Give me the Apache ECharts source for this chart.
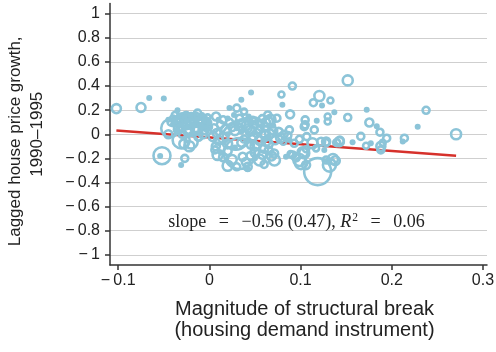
<!DOCTYPE html>
<html>
<head>
<meta charset="utf-8">
<script src="https://cdn.jsdelivr.net/npm/echarts@6/dist/echarts.min.js"></script>
<style>
  html, body { margin: 0; padding: 0; background: #ffffff; }
  #chart { width: 496px; height: 352px; }
</style>
</head>
<body>
<div id="chart"></div>
<script>
// Tick positions
const xTicks = [-0.1, 0, 0.1, 0.2, 0.3];
const yTicks = [-1, -0.8, -0.6, -0.4, -0.2, 0, 0.2, 0.4, 0.6, 0.8, 1];

// Regions with larger weight: [structural break, lagged price growth, marker diameter]
const ringPoints = [
  [-0.102, 0.213, 9], [-0.075, 0.222, 9], [-0.043, 0.05, 18], [-0.052, -0.178, 17], [-0.027, -0.20, 7],
  [-0.031, -0.047, 17], [-0.020, -0.065, 13], [-0.022, -0.1, 10], [-0.028, -0.08, 9], [-0.045, 0.0, 8],
  [-0.035, 0.1, 8], [-0.028, 0.13, 7], [-0.015, 0.15, 7], [-0.01, 0.09, 8], [-0.022, 0.04, 9],
  [-0.005, 0.03, 7], [-0.03, 0.0, 7], [-0.012, -0.02, 8], [-0.001, 0.06, 7], [-0.013, 0.175, 7],
  [-0.025, 0.08, 9], [-0.018, 0.11, 8], [-0.008, 0.12, 9], [-0.003, 0.1, 7], [-0.032, 0.06, 7],
  [-0.04, 0.13, 6], [-0.02, 0.15, 6], [-0.006, 0.07, 8], [-0.015, 0.06, 10], [-0.038, 0.16, 6],
  [-0.036, 0.11, 7], [-0.026, 0.15, 8], [-0.019, 0.125, 7], [-0.011, 0.105, 8], [-0.004, 0.085, 7],
  [-0.028, 0.1, 7], [-0.033, 0.125, 6], [-0.009, 0.145, 6], [-0.021, 0.09, 8], [-0.014, 0.03, 8],
  [-0.034, 0.04, 9], [-0.002, 0.14, 6], [-0.042, 0.1, 7], [-0.024, 0.02, 8], [-0.007, 0.0, 8],
  [0.0073, 0.147, 8], [0.033, 0.133, 7], [0.038, 0.188, 6], [0.030, 0.217, 7], [0.064, 0.16, 7],
  [0.067, 0.12, 10], [0.061, 0.06, 8], [0.055, 0.092, 7], [0.0475, 0.12, 6],
  [0.005, 0.05, 8], [0.012, 0.08, 7], [0.018, 0.04, 9], [0.008, 0.01, 8], [0.015, -0.03, 10],
  [0.022, 0.1, 7], [0.025, 0.06, 8], [0.04, 0.07, 9], [0.045, 0.03, 10], [0.05, 0.08, 7],
  [0.055, 0.04, 8], [0.06, 0.0, 9], [0.048, -0.02, 8], [0.038, -0.04, 7], [0.055, -0.05, 9],
  [0.065, -0.08, 8], [0.045, -0.09, 7], [0.02, -0.08, 9], [0.007, -0.1, 8], [0.004, -0.02, 9],
  [0.006, -0.13, 7], [0.06, -0.12, 8], [0.05, -0.15, 9], [0.068, -0.18, 9], [0.015, -0.19, 8],
  [0.025, -0.21, 9], [0.04, -0.23, 8], [0.06, -0.25, 7], [0.03, -0.27, 7],
  [0.015, 0.12, 7], [0.035, 0.09, 8], [0.05, 0.11, 7], [0.058, 0.13, 7], [0.062, 0.1, 8],
  [0.042, 0.05, 8], [0.028, 0.03, 9], [0.052, 0.01, 8], [0.01, -0.05, 9], [0.035, -0.07, 8],
  [0.05, -0.1, 9], [0.045, -0.18, 8], [0.065, -0.135, 8], [0.02, -0.14, 8],
  [0.033, -0.16, 31], [0.029, -0.02, 26], [0.009, -0.172, 10], [0.020, -0.262, 10], [0.0365, -0.187, 8],
  [0.042, -0.27, 8], [0.055, -0.214, 11], [0.071, -0.16, 8], [0.0713, -0.214, 11], [0.062, -0.06, 9],
  [0.058, -0.17, 8],
  [0.076, 0.02, 8], [0.082, 0.0, 7], [0.07, 0.03, 8], [0.078, -0.03, 9], [0.086, -0.01, 7],
  [0.066, 0.005, 9], [0.072, -0.05, 8],
  [0.081, -0.062, 6], [0.093, -0.075, 7], [0.0987, -0.042, 7], [0.1067, -0.02, 7], [0.1225, -0.062, 8],
  [0.128, -0.07, 7], [0.1396, -0.07, 7], [0.143, -0.053, 8], [0.106, -0.125, 6], [0.117, -0.117, 6],
  [0.106, -0.256, 8], [0.128, -0.214, 7],
  [0.0877, 0.036, 7], [0.104, 0.063, 7], [0.115, 0.036, 7], [0.113, -0.075, 10], [0.128, -0.06, 8],
  [0.0913, -0.172, 7], [0.0987, -0.214, 12], [0.1023, -0.15, 10], [0.1005, -0.24, 12], [0.104, -0.158, 10],
  [0.095, -0.19, 8], [0.089, -0.165, 6], [0.138, -0.22, 9], [0.1355, -0.205, 10],
  [0.1187, -0.31, 27], [0.1316, -0.256, 13],
  [0.091, 0.40, 7], [0.079, 0.33, 6], [0.0885, 0.165, 8], [0.1206, 0.318, 10], [0.114, 0.262, 7],
  [0.1327, 0.28, 6], [0.105, 0.119, 7], [0.105, 0.078, 7], [0.1297, 0.147, 6], [0.1297, 0.106, 6],
  [0.074, 0.133, 7], [0.064, 0.105, 10],
  [0.1517, 0.447, 10], [0.2376, 0.199, 7], [0.1517, 0.139, 7], [0.1754, 0.097, 8], [0.2705, 0.0, 10],
  [0.2138, -0.033, 7], [0.188, -0.10, 9], [0.19, -0.07, 6], [0.188, -0.13, 7], [0.1944, -0.033, 7],
  [0.1718, -0.095, 6], [0.166, -0.018, 7], [0.1425, -0.062, 9], [0.187, 0.017, 7]
];

// Regions with small weight: [structural break, lagged price growth]
const dotPoints = [
  [-0.066, 0.30], [-0.050, 0.297], [-0.035, 0.20], [-0.054, -0.18], [-0.031, -0.256],
  [-0.035, 0.14], [-0.03, 0.16], [-0.025, 0.17], [-0.018, 0.14], [-0.012, 0.13],
  [-0.005, 0.14], [-0.038, 0.12], [-0.03, 0.09], [-0.022, 0.12], [-0.015, 0.09],
  [-0.008, 0.16], [-0.002, 0.12], [-0.04, 0.08], [-0.028, 0.05], [-0.01, 0.04],
  [-0.036, 0.03], [-0.02, 0.0], [-0.045, 0.12], [0.0, 0.1], [-0.016, 0.165],
  [-0.033, 0.155], [-0.027, 0.14], [-0.021, 0.16], [-0.014, 0.12], [-0.006, 0.11],
  [-0.039, 0.1], [-0.025, 0.11], [-0.017, 0.075], [-0.031, 0.075], [-0.009, 0.07],
  [0.022, 0.217], [0.035, 0.286], [0.0457, 0.347], [0.043, 0.147], [0.027, 0.16],
  [0.01, 0.12], [0.03, 0.1], [0.02, 0.0], [0.035, 0.02], [0.042, -0.29],
  [0.05, -0.2], [0.012, -0.15], [0.065, -0.02], [0.07, 0.07], [0.028, -0.11], [0.04, 0.12],
  [0.02, 0.13], [0.045, 0.1], [0.058, 0.07], [0.03, 0.05], [0.06, -0.04],
  [0.080, 0.244], [0.1235, 0.238], [0.1177, 0.113], [0.137, 0.183], [0.1725, 0.203],
  [0.1835, 0.066], [0.2284, 0.063], [0.212, -0.06], [0.177, -0.075], [0.157, -0.067],
  [0.0877, -0.047], [0.126, -0.13], [0.084, -0.187]
];

// Weighted regression fit
const fitIntercept = -0.026;
const fitSlope = -0.56;
const fitSE = 0.47;
const fitR2 = 0.06;

const allX = ringPoints.map(p => p[0]).concat(dotPoints.map(p => p[0]));
const xLo = Math.min.apply(null, allX);
const xHi = Math.max.apply(null, allX);
const fitLine = [[xLo, fitIntercept + fitSlope * xLo], [xHi, fitIntercept + fitSlope * xHi]];

const MARK = '#8cc4d8';
const AXIS = '#333333';
const FONT = '"Liberation Sans", Arial, Helvetica, sans-serif';
const SERIF = '"Liberation Serif", "Times New Roman", serif';

function fmt(v) {
  const r = +(+v).toFixed(2);
  return r < 0 ? '\u2212\u2009' + String(-r) : String(r);
}

const EQ = '\u2002\u2009=\u2002\u2009';

const chart = echarts.init(document.getElementById('chart'), null, { renderer: 'canvas' });
chart.setOption({
  animation: false,
  backgroundColor: '#ffffff',
  grid: { left: 110, right: 9, top: 3.5, bottom: 87, containLabel: false, outerBoundsMode: 'none' },
  xAxis: {
    type: 'value', min: -0.109, max: 0.3044,
    axisLine: { show: true, onZero: false, lineStyle: { color: AXIS, width: 1.5 } },
    axisTick: { show: true, customValues: xTicks, length: 5, lineStyle: { color: AXIS, width: 1.5 } },
    axisLabel: { customValues: xTicks, formatter: fmt, fontSize: 16, color: '#222', margin: 8, fontFamily: FONT },
    splitLine: { show: false },
    name: 'Magnitude of structural break\n(housing demand instrument)',
    nameLocation: 'middle', nameGap: 34,
    nameTextStyle: { fontSize: 20, lineHeight: 21, color: '#222', fontFamily: FONT, padding: [0, 0, 0, 12] }
  },
  yAxis: {
    type: 'value', min: -1.085, max: 1.085,
    axisLine: { show: true, onZero: false, lineStyle: { color: AXIS, width: 1.5 } },
    axisTick: { show: true, customValues: yTicks, length: 5, lineStyle: { color: AXIS, width: 1.5 } },
    axisLabel: { customValues: yTicks, formatter: fmt, fontSize: 16, color: '#222', margin: 10, fontFamily: FONT },
    splitLine: { show: true, lineStyle: { color: '#cfcfcf', width: 1.2 } },
    name: 'Lagged house price growth,\u00a0\u00a0\u00a0\n1990\u20131995',
    nameLocation: 'middle', nameRotate: 90, nameGap: 62,
    nameTextStyle: { fontSize: 17, lineHeight: 22, color: '#222', fontFamily: FONT }
  },
  graphic: [{
    type: 'text', x: 296.5, y: 222, z: 10,
    style: {
      text: '{t|slope' + EQ + '\u2212' + Math.abs(fitSlope).toFixed(2) + ' (' + fitSE.toFixed(2) + '), }{i|R}{s|2}{t|' + EQ + fitR2.toFixed(2) + '}',
      align: 'center', verticalAlign: 'middle',
      rich: {
        t: { fontFamily: SERIF, fontSize: 18, fill: '#222', lineHeight: 20 },
        i: { fontFamily: SERIF, fontSize: 18, fontStyle: 'italic', fill: '#222', lineHeight: 20 },
        s: { fontFamily: SERIF, fontSize: 11.5, fill: '#222', lineHeight: 20, padding: [0, 0, 9, 1] }
      }
    }
  }],
  series: [
    {
      type: 'line', data: fitLine, symbol: 'none', silent: true, z: 1,
      lineStyle: { color: '#d6312b', width: 2.5 }
    },
    {
      type: 'scatter', data: ringPoints, silent: true, z: 3,
      symbolSize: d => d[2],
      itemStyle: { color: 'rgba(0,0,0,0)', borderColor: MARK, borderWidth: 2.6, opacity: 1 }
    },
    {
      type: 'scatter', data: dotPoints, silent: true, z: 3,
      symbolSize: 6,
      itemStyle: { color: MARK, opacity: 1 }
    }
  ]
});
</script>
</body>
</html>
